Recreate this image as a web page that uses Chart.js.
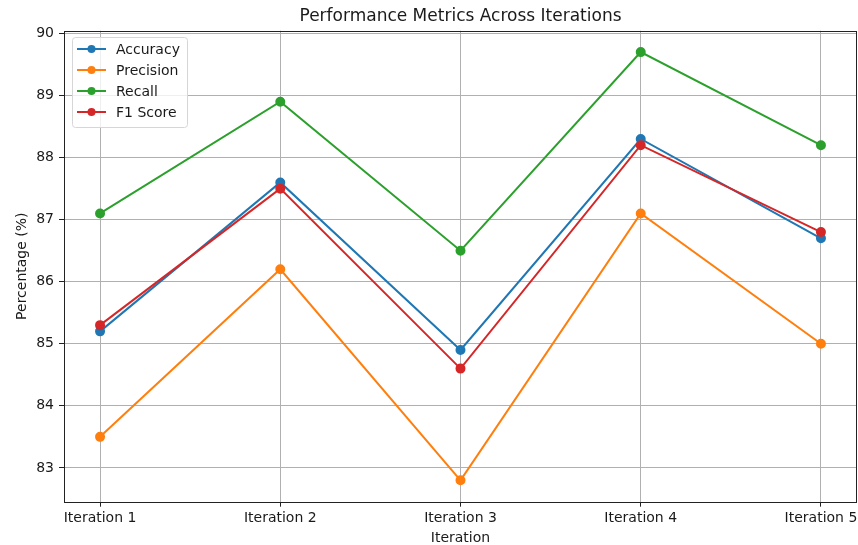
<!DOCTYPE html>
<html><head><meta charset="utf-8">
<script src="https://cdn.jsdelivr.net/npm/chart.js@4"></script>
<style>html,body{margin:0;padding:0;background:#fff;overflow:hidden}#wrap{width:858px;height:545px;position:relative}canvas{display:block}</style>
</head><body><div id="wrap"><canvas id="c" width="858" height="545"></canvas></div>
<script>
const categories = ["Iteration 1","Iteration 2","Iteration 3","Iteration 4","Iteration 5"];
const accuracy  = [85.2, 87.6, 84.9, 88.3, 86.7];
const precision = [83.5, 86.2, 82.8, 87.1, 85.0];
const recall    = [87.1, 88.9, 86.5, 89.7, 88.2];
const f1Score   = [85.3, 87.5, 84.6, 88.2, 86.8];
const yTicks    = [83, 84, 85, 86, 87, 88, 89, 90];
const seriesNames = ["Accuracy","Precision","Recall","F1 Score"];
const chartTitle = "Performance Metrics Across Iterations";
const colors = ["#1f77b4","#ff7f0e","#2ca02c","#d62728"];
const FONT = "'DejaVu Sans', sans-serif";

const allSeries = [accuracy, precision, recall, f1Score];
const datasets = allSeries.map((vals, k) => ({
  label: seriesNames[k],
  data: vals.map((v, i) => ({x: i, y: v})),
  borderColor: colors[k], backgroundColor: colors[k],
  pointBackgroundColor: colors[k], pointBorderColor: colors[k],
  borderWidth: 2, pointRadius: 4, pointHoverRadius: 4, tension: 0,
  order: 3 - k
}));

const noPad = () => ({left: 0, top: 0, right: 0, bottom: 0});

const frame = {
  id: 'frame',
  afterDatasetsDraw(chart) {
    const {ctx, chartArea: a} = chart;
    ctx.save();
    ctx.strokeStyle = '#222'; ctx.lineWidth = 1;
    ctx.strokeRect(Math.round(a.left)+0.5, Math.round(a.top)+0.5, Math.round(a.right-a.left)-1, Math.round(a.bottom-a.top));
    // title centred over the axes
    ctx.fillStyle = '#1a1a1a';
    ctx.font = "17px " + FONT; ctx.textAlign = 'center'; ctx.textBaseline = 'alphabetic';
    ctx.fillText(chartTitle, (a.left + a.right) / 2, 21);
    // legend
    const x0 = 72, y0 = 37, w = 115, h = 90;
    ctx.fillStyle = 'rgba(255,255,255,0.8)';
    ctx.strokeStyle = '#d6d6d6';
    ctx.beginPath();
    if (ctx.roundRect) ctx.roundRect(x0+0.5, y0+0.5, w, h, 3); else ctx.rect(x0+0.5, y0+0.5, w, h);
    ctx.fill(); ctx.stroke();
    ctx.font = "14px " + FONT; ctx.textBaseline = 'middle'; ctx.textAlign = 'left';
    seriesNames.forEach((n, k) => {
      const yy = 49 + k * 21;
      ctx.strokeStyle = colors[k]; ctx.lineWidth = 2;
      ctx.beginPath(); ctx.moveTo(77, yy); ctx.lineTo(106, yy); ctx.stroke();
      ctx.fillStyle = colors[k];
      ctx.beginPath(); ctx.arc(91.5, yy, 4, 0, Math.PI*2); ctx.fill();
      ctx.fillStyle = '#1a1a1a';
      ctx.fillText(n, 116, yy + 1);
    });
    ctx.restore();
  }
};

new Chart(document.getElementById('c'), {
  type: 'line',
  data: { datasets },
  options: {
    responsive: false, animation: false,
    layout: { autoPadding: false, padding: { left: 0, right: 1, top: 30.7, bottom: 0 } },
    plugins: {
      legend: { display: false },
      tooltip: { enabled: false },
      title: { display: false }
    },
    scales: {
      x: {
        type: 'linear', min: -0.2, max: 4.2,
        afterBuildTicks: s => { s.ticks = categories.map((_, i) => ({value: i})); },
        afterFit: s => { s.height = 43.3; s.paddingLeft = 0; s.paddingRight = 0; s.getPadding = noPad; },
        ticks: { callback: v => categories[v], color: '#1a1a1a', font: { family: FONT, size: 14 }, padding: 3, maxRotation: 0, autoSkip: false },
        grid: { color: '#b0b0b0', lineWidth: 1, tickColor: '#222', tickLength: 5, drawTicks: true },
        border: { display: false },
        title: { display: true, text: 'Iteration', color: '#1a1a1a', font: { family: FONT, size: 14 }, padding: { top: 0, bottom: -1.5 } }
      },
      y: {
        min: 82.455, max: 90.045,
        afterBuildTicks: s => { s.ticks = yTicks.map(v => ({value: v})); },
        afterFit: s => { s.width = 64; s.paddingTop = 0; s.paddingBottom = 0; s.getPadding = noPad; },
        ticks: { color: '#1a1a1a', font: { family: FONT, size: 14 }, padding: 5 },
        grid: { color: '#b0b0b0', lineWidth: 1, tickColor: '#222', tickLength: 5 },
        border: { display: false },
        title: { display: true, text: 'Percentage (%)', color: '#1a1a1a', font: { family: FONT, size: 14 }, padding: { top: 14, bottom: 0 } }
      }
    }
  },
  plugins: [frame]
});
</script></body></html>
